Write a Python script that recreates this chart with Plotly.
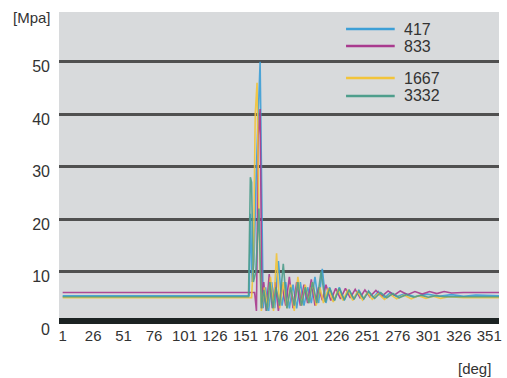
import plotly.graph_objects as go

# ---- data ----
series_names = ["417", "833", "1667", "3332"]
series_colors = ["#3d9fd6", "#a93a8e", "#f2c43a", "#4e9e8c"]

x_417 = [1, 154, 155, 156.5, 158, 160, 163, 165.5, 167.5, 170,
         172.5, 175, 178, 181, 184, 187, 190, 193, 196, 199,
         202, 205, 208, 211, 214, 217, 220, 224, 228, 232,
         236, 240, 244, 248, 252, 256, 260, 265, 270, 275,
         282, 290, 300, 310, 320, 330, 340, 350, 359]
y_417 = [5.4, 5.4, 21, 8, 12, 30, 50, 3, 7, 2.5,
         8, 3, 12, 3.5, 8, 3, 7.5, 3, 8, 3.5,
         7, 4, 9, 4, 10.5, 4, 7, 4.5, 7, 4.5,
         6.5, 4.8, 6.5, 4.8, 6.3, 5, 6.2, 5, 6, 5.2,
         5.8, 5.2, 5.7, 5.3, 5.6, 5.3, 5.5, 5.4, 5.4]

x_833 = [1, 158.5, 160, 161.5, 163, 164.5, 166, 168, 170.5, 173,
         175.5, 178, 181, 184, 187, 190, 193, 196, 199, 202,
         205, 208, 211, 214, 217, 221, 225, 229, 233, 237,
         241, 245, 249, 253, 258, 263, 268, 273, 278, 284,
         290, 296, 302, 308, 314, 320, 330, 345, 359]
y_833 = [6.0, 6.0, 2.5, 36, 41, 3, 8, 2.5, 9.5, 3,
         8, 2.5, 7.5, 3.5, 9, 3, 8, 3.5, 7.5, 4,
         8.5, 3.5, 7, 4.5, 7.5, 4.5, 6.8, 4.8, 6.8, 5,
         6.6, 5, 6.5, 5.2, 6.4, 5.3, 6.3, 5.5, 6.3, 5.6,
         6.2, 5.7, 6.2, 5.8, 6.2, 5.9, 6.0, 6.0, 6.0]

x_1667 = [1, 156, 157.5, 159, 160.5, 162, 164, 166.5, 169, 171.5,
          174, 176.5, 179, 182, 185, 188, 191, 194, 197, 200,
          203, 206, 209, 212, 215, 219, 223, 227, 231, 235,
          239, 243, 247, 251, 255, 260, 265, 270, 275, 281,
          287, 293, 299, 305, 311, 318, 330, 345, 359]
y_1667 = [5.0, 5.0, 12, 40, 46, 20, 2.5, 7, 3, 9,
          2.5, 13.5, 3, 8, 3, 7.5, 2.5, 9, 3.5, 7.5,
          4, 8, 3.5, 7, 4, 6.8, 4.2, 6.5, 4.5, 6.5,
          4.5, 6.2, 4.6, 6, 4.7, 5.8, 4.7, 5.6, 4.8, 5.5,
          4.8, 5.4, 4.9, 5.3, 4.9, 5.2, 5.0, 5.0, 5.0]

x_3332 = [1, 153.5, 155, 156, 157.5, 159.5, 162, 164, 166, 168.5,
          171, 173.5, 176, 179, 182, 185, 188, 191, 194, 197,
          200, 203, 206, 209.5, 213, 216.5, 220, 224, 228, 232,
          236, 240, 244, 248, 252, 257, 262, 267, 272, 277,
          283, 289, 295, 301, 307, 314, 325, 340, 359]
y_3332 = [5.2, 5.2, 28, 27, 8, 10, 22, 3, 6.5, 2.5,
          8, 3, 7, 3.5, 11.5, 3, 7, 3.5, 8, 3.5,
          7, 4, 8, 4, 10, 4.2, 6.8, 4.5, 6.8, 4.6,
          6.5, 4.7, 6.3, 4.8, 6.2, 4.9, 6, 5, 5.8, 5,
          5.6, 5.1, 5.5, 5.1, 5.4, 5.2, 5.2, 5.2, 5.2]

x_tick_vals = [1, 26, 51, 76, 101, 126, 151, 176, 201, 226, 251, 276, 301, 326, 351]
x_tick_text = [str(v) for v in x_tick_vals]
y_tick_vals = [0, 10, 20, 30, 40, 50]
y_tick_text = ["0", "10", "20", "30", "40", "50"]

xs = [x_417, x_833, x_1667, x_3332]
ys = [y_417, y_833, y_1667, y_3332]

FONT = "Liberation Sans, Arial, sans-serif"
TXT = "#333333"

fig = go.Figure()
for name, color, xv, yv in zip(series_names, series_colors, xs, ys):
    assert len(xv) == len(yv)
    fig.add_trace(go.Scatter(x=xv, y=yv, mode="lines", name=name, showlegend=False,
                             opacity=0.9, line=dict(color=color, width=1.6)))

# hand-placed legend (paper coordinates), two pairs separated by the 50 gridline
H_PLOT = 312.0
W_PLOT = 443.0
legend_rows_px = [29, 46, 78, 96]
shapes = [dict(type="rect", xref="paper", x0=0, x1=1, yref="y", y0=0, y1=1.15,
               fillcolor="#1c2323", line=dict(width=0), layer="above")]
annotations = [
    dict(text="[Mpa]", xref="paper", yref="paper", x=-0.061, y=0.981,
         xanchor="center", yanchor="middle", showarrow=False,
         font=dict(size=15, color=TXT)),
    dict(text="[deg]", xref="paper", yref="paper", x=0.9436, y=-0.144,
         xanchor="center", yanchor="middle", showarrow=False,
         font=dict(size=15, color=TXT)),
]
for name, color, py in zip(series_names, series_colors, legend_rows_px):
    yp = 1 - (py - 12) / H_PLOT
    shapes.append(dict(type="line", xref="paper", yref="paper",
                       x0=(348 - 59) / W_PLOT, x1=(397 - 59) / W_PLOT, y0=yp, y1=yp,
                       line=dict(color=color, width=2.5), layer="above"))
    annotations.append(dict(text=name, xref="paper", yref="paper",
                            x=(404 - 59) / W_PLOT, y=yp, xanchor="left", yanchor="middle",
                            showarrow=False, font=dict(size=16, color=TXT)))

fig.update_layout(
    width=507, height=378,
    margin=dict(l=59, r=5, t=12, b=54),
    paper_bgcolor="white",
    plot_bgcolor="#d8dadc",
    font=dict(family=FONT, size=15, color=TXT),
    showlegend=False,
    xaxis=dict(range=[-2, 359], tickvals=x_tick_vals, ticktext=x_tick_text,
               showgrid=False, zeroline=False, showline=False, ticks="",
               ticklabelstandoff=1,
               tickfont=dict(size=15, color=TXT)),
    yaxis=dict(range=[0, 59.5], tickvals=y_tick_vals, ticktext=y_tick_text,
               showgrid=True, gridcolor="#505050", gridwidth=2.5,
               zeroline=False, showline=False, ticks="",
               ticklabelshift=5, ticklabelstandoff=8,
               tickfont=dict(size=16, color=TXT)),
    shapes=shapes,
    annotations=annotations,
)

fig.write_html("out.html")
